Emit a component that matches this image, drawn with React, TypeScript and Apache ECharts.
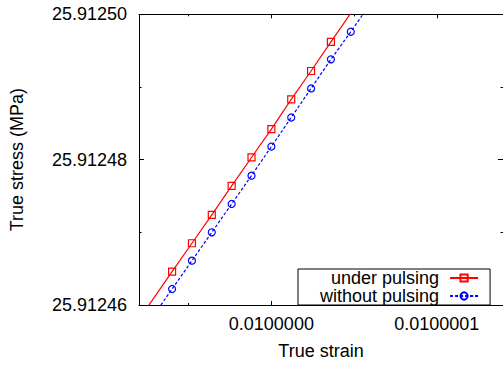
import React, { useEffect, useRef } from "react";
import * as echarts from "echarts";

// Tick values (real units)
const strainMajorTicks = [0.01, 0.0100001];
const strainMinorTicks = [0.00999995, 0.01000005];
const strainRange = [0.00999992, 0.01000014];
const stressRange = [25.91246, 25.9125];

// under pulsing (markers)
const underStrain = [0.00999994, 0.009999952, 0.009999964, 0.009999976, 0.009999988, 0.01, 0.010000012, 0.010000024, 0.010000036];
const underStress = [25.9124646, 25.9124685, 25.9124724, 25.9124764, 25.9124803, 25.9124842, 25.9124883, 25.9124922, 25.9124962];
// line continues beyond the plot frame
const underLineStart = [0.009999916, 25.9124567];
const underLineEnd = [0.01000006, 25.9125041];

// without pulsing (markers)
const withoutStrain = [0.00999994, 0.009999952, 0.009999964, 0.009999976, 0.009999988, 0.01, 0.010000012, 0.010000024, 0.010000036, 0.010000048];
const withoutStress = [25.9124622, 25.9124661, 25.91247, 25.9124739, 25.9124778, 25.9124818, 25.9124858, 25.9124898, 25.9124938, 25.9124976];
const withoutLineStart = [0.009999928, 25.9124583];
const withoutLineEnd = [0.01000006, 25.9125015];

const X0 = 0.01;
const XS = 1e7;
const Y0 = 25.91246;
const YS = 1e5;
const toU = (s: number) => (s - X0) * XS;
const toV = (s: number) => (s - Y0) * YS;

const FONT = "Liberation Sans";

function buildData(xs: number[], ys: number[], start: number[], end: number[]) {
  const d: any[] = [{ value: [toU(start[0]), toV(start[1])], symbol: "none" }];
  xs.forEach((x, i) => d.push([toU(x), toV(ys[i])]));
  d.push({ value: [toU(end[0]), toV(end[1])], symbol: "none" });
  return d;
}

export default function App() {
  const ref = useRef<HTMLDivElement>(null);
  useEffect(() => {
    if (!ref.current) return;
    const chart = echarts.init(ref.current, undefined, { renderer: "svg" });
    const xMin = toU(strainRange[0]);
    const xMax = toU(strainRange[1]);
    const yMin = toV(stressRange[0]);
    const yMax = toV(stressRange[1]);
    const major = strainMajorTicks.map(toU);
    const minor = strainMinorTicks.map(toU);
    const xFmt = (v: number) => (X0 + v / XS).toFixed(7);
    const yFmt = (v: number) => (Y0 + v / YS).toFixed(5);
    const black = "#000";
    const baseX = (pos: "top" | "bottom", ticks: number[], len: number, line: boolean, label: boolean, name?: string) => ({
      type: "value",
      position: pos,
      min: xMin,
      max: xMax,
      splitLine: { show: false },
      axisLine: { show: line, onZero: false, lineStyle: { color: black, width: 1 } },
      axisTick: { show: true, inside: true, length: len, customValues: ticks, lineStyle: { color: black, width: 1 } },
      axisLabel: label
        ? { show: true, customValues: ticks, formatter: xFmt, fontSize: 18, fontFamily: FONT, color: black, margin: 10 }
        : { show: false },
      name: name,
      nameLocation: "middle",
      nameGap: 37,
      nameTextStyle: { fontSize: 18, fontFamily: FONT, color: black },
    });
    const baseY = (pos: "left" | "right", label: boolean, name?: string) => ({
      type: "value",
      position: pos,
      min: yMin,
      max: yMax,
      interval: 2,
      splitLine: { show: false },
      minorSplitLine: { show: false },
      axisLine: { show: true, onZero: false, lineStyle: { color: black, width: 1 } },
      axisTick: { show: true, inside: true, length: 5, lineStyle: { color: black, width: 1 } },
      minorTick: { show: true, splitNumber: 2, length: 2.5, lineStyle: { color: black, width: 1 } },
      axisLabel: label
        ? { show: true, formatter: yFmt, fontSize: 18, fontFamily: FONT, color: black, margin: 12 }
        : { show: false },
      name: name,
      nameLocation: "middle",
      nameGap: 113,
      nameTextStyle: { fontSize: 18, fontFamily: FONT, color: black },
    });
    chart.setOption({
      animation: false,
      backgroundColor: "#fff",
      textStyle: { fontFamily: FONT },
      grid: { left: 137.7, right: -2, top: 14.3, bottom: 58.3, containLabel: false },
      xAxis: [
        baseX("bottom", major, 4, true, true, "True strain"),
        baseX("bottom", minor, 2, false, false),
        baseX("top", major, 4, true, false),
        baseX("top", minor, 2, false, false),
      ],
      yAxis: [baseY("left", true, "True stress (MPa)"), baseY("right", false)],
      legend: {
        data: ["under pulsing", "without pulsing"],
        orient: "vertical",
        left: 298,
        top: 269,
        align: "right",
        itemWidth: 28,
        itemHeight: 9,
        itemGap: 0,
        backgroundColor: "#fff",
        borderColor: black,
        borderWidth: 1,
        borderRadius: 0,
        padding: [0, 11, 0, 22],
        textStyle: { fontSize: 18, fontFamily: FONT, color: black, lineHeight: 16, padding: [0, 6, 0, 0] },
      },
      series: [
        {
          name: "under pulsing",
          type: "line",
          xAxisIndex: 0,
          yAxisIndex: 0,
          clip: true,
          symbol: "rect",
          symbolSize: 7,
          showAllSymbol: true,
          itemStyle: { color: "transparent", borderColor: "#ff0000", borderWidth: 1.2 },
          lineStyle: { color: "#ff0000", width: 1.2 },
          data: buildData(underStrain, underStress, underLineStart, underLineEnd),
        },
        {
          name: "without pulsing",
          type: "line",
          xAxisIndex: 0,
          yAxisIndex: 0,
          clip: true,
          symbol: "circle",
          symbolSize: 7,
          showAllSymbol: true,
          itemStyle: { color: "transparent", borderColor: "#0000ff", borderWidth: 1.2 },
          lineStyle: { color: "#0000ff", width: 1.2, type: [3, 2] },
          data: buildData(withoutStrain, withoutStress, withoutLineStart, withoutLineEnd),
        },
      ],
    });
    return () => chart.dispose();
  }, []);
  return (
    <div
      ref={ref}
      style={{ position: "absolute", left: 0, top: 0, width: 503, height: 365 }}
    />
  );
}
